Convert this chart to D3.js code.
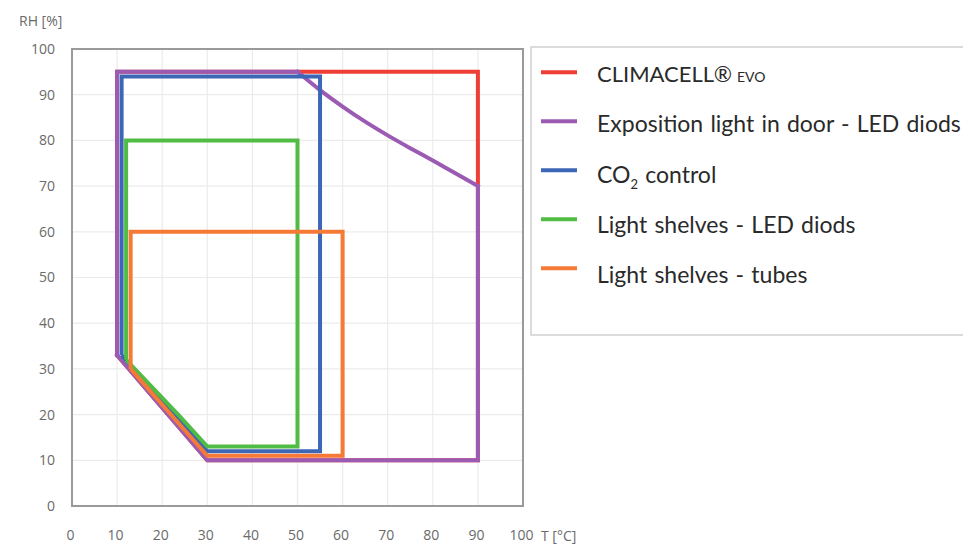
<!DOCTYPE html>
<html>
<head>
<meta charset="utf-8">
<script src="https://cdn.jsdelivr.net/npm/d3@7"></script>
<style>
  body { margin: 0; background: #fff; }
  svg { display: block; }
</style>
</head>
<body>
<div id="chart"></div>
<script>
// temperature [°C] / humidity [%] outline of each working range
const climacell = [[10, 33], [10, 95], [90, 95], [90, 10], [30, 10], [10, 33]];
const exposition = [[10, 33], [10, 95], [50, 95], [55, 91], [60, 87.4], [65, 84.1], [70, 81.1],
  [75, 78.3], [80, 75.6], [85, 72.8], [90, 70], [90, 10], [30, 10], [10, 33]];
const co2 = [[11, 33], [11, 94], [55, 94], [55, 12], [30, 12], [11, 33]];
const ledShelves = [[12, 32], [12, 80], [50, 80], [50, 13], [30, 13], [24, 19.5], [12, 32]];
const tubeShelves = [[13, 30], [13, 60], [60, 60], [60, 11], [30, 11], [13, 30]];

const seriesNames = ["CLIMACELL®", "Exposition light in door - LED diods", "CO2 control",
  "Light shelves - LED diods", "Light shelves - tubes"];
const seriesColors = ["#ef3e36", "#9c5bb3", "#3b67b6", "#50bc44", "#f57a36"];

const xTicks = [0, 10, 20, 30, 40, 50, 60, 70, 80, 90, 100];
const yTicks = [0, 10, 20, 30, 40, 50, 60, 70, 80, 90, 100];

const W = 963, H = 544;
const margin = {top: 49, left: 72};
const plotW = 451, plotH = 457;

const svg = d3.select("#chart").append("svg")
  .attr("width", W).attr("height", H);

const x = d3.scaleLinear().domain([0, 100]).range([margin.left, margin.left + plotW]);
const y = d3.scaleLinear().domain([0, 100]).range([margin.top + plotH, margin.top]);

// grid
const grid = svg.append("g");
grid.selectAll(".vg").data(xTicks.slice(1, -1)).enter().append("line")
  .attr("x1", d => x(d)).attr("x2", d => x(d))
  .attr("y1", y(0)).attr("y2", y(100))
  .attr("stroke", "#ebebeb").attr("stroke-width", 1.2);
grid.selectAll(".hg").data(yTicks.slice(1, -1)).enter().append("line")
  .attr("y1", d => y(d)).attr("y2", d => y(d))
  .attr("x1", x(0)).attr("x2", x(100))
  .attr("stroke", "#ebebeb").attr("stroke-width", 1.2);

// frame
svg.append("rect")
  .attr("x", x(0)).attr("y", y(100))
  .attr("width", x(100) - x(0)).attr("height", y(0) - y(100))
  .attr("fill", "none").attr("stroke", "#9a9a9a").attr("stroke-width", 2);

// axis labels
const xAxis = d3.axisBottom(x).tickValues(xTicks).tickSize(0).tickPadding(24);
svg.append("g").attr("transform", "translate(-2," + y(0) + ")").call(xAxis)
  .call(g => g.select(".domain").remove())
  .selectAll("text")
  .attr("fill", "#6a6a6a").attr("font-family", "Open Sans").attr("font-size", 14);

const yAxis = d3.axisLeft(y).tickValues(yTicks).tickSize(0).tickPadding(17);
svg.append("g").attr("transform", "translate(" + x(0) + ",0)").call(yAxis)
  .call(g => g.select(".domain").remove())
  .selectAll("text")
  .attr("fill", "#6a6a6a").attr("font-family", "Open Sans").attr("font-size", 14);

svg.append("text").attr("x", 19).attr("y", 26)
  .attr("fill", "#6a6a6a").attr("font-family", "Open Sans").attr("font-size", 14)
  .text("RH [%]");
svg.append("text").attr("x", 541).attr("y", 541)
  .attr("fill", "#6a6a6a").attr("font-family", "Open Sans").attr("font-size", 14)
  .text("T [°C]");

// ranges; the door-light outline has a smooth bend between 50 °C and 90 °C
const line = d3.line().x(d => x(d[0])).y(d => y(d[1]));
const smooth = d3.line().x(d => x(d[0])).y(d => y(d[1])).curve(d3.curveMonotoneX);

function outline(pts, i) {
  if (i !== 1) return line(pts);
  const p = d3.path();
  line.context(p)(pts.slice(0, 3));
  smooth.context(p)(pts.slice(2, 11));
  line.context(p)(pts.slice(10));
  line.context(null);
  smooth.context(null);
  return p.toString();
}

const shapes = [climacell, exposition, co2, ledShelves, tubeShelves];
svg.append("g").selectAll("path").data(shapes).enter().append("path")
  .attr("d", (d, i) => outline(d, i))
  .attr("fill", "none")
  .attr("stroke", (d, i) => seriesColors[i])
  .attr("stroke-width", 4)
  .attr("stroke-linecap", (d, i) => i === 1 ? "square" : "butt")
  .attr("stroke-linejoin", "miter");

// legend
const lg = svg.append("g");
lg.append("rect").attr("x", 531).attr("y", 47).attr("width", 460).attr("height", 288)
  .attr("fill", "#fff").attr("stroke", "#cfcfcf").attr("stroke-width", 1.5);

const rows = lg.selectAll(".row").data(seriesNames).enter().append("g");
rows.append("line").attr("x1", 541).attr("x2", 577)
  .attr("y1", (d, i) => 72.3 + i * 49).attr("y2", (d, i) => 72.3 + i * 49)
  .attr("stroke", (d, i) => seriesColors[i]).attr("stroke-width", 4);
const txt = rows.append("text").attr("x", 597).attr("y", (d, i) => 81.7 + i * 50.4)
  .attr("fill", "#2a2a2a").attr("font-family", "Lato").attr("font-size", 23)
  .attr("word-spacing", 1.3);
txt.each(function(d, i) {
  const t = d3.select(this);
  if (i === 0) {
    t.append("tspan").attr("font-size", 22).text(d);
    t.append("tspan").attr("font-size", 14).attr("dx", 5).text("EVO");
  } else if (i === 2) {
    t.append("tspan").text("CO");
    t.append("tspan").attr("font-size", 13).attr("dy", 6).text("2");
    t.append("tspan").attr("dy", -6).text(" control");
  } else {
    t.text(d);
  }
});
</script>
</body>
</html>
